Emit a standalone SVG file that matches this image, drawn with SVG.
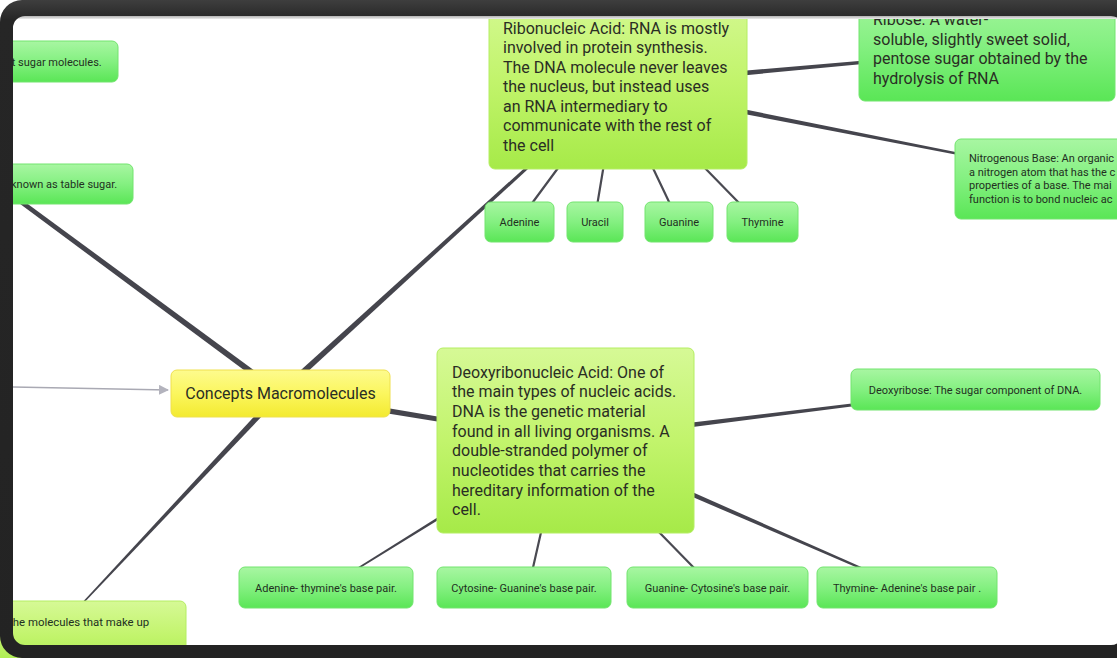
<svg xmlns="http://www.w3.org/2000/svg" width="1117" height="658" viewBox="0 0 1117 658">
<defs>
<linearGradient id="gGreen" x1="0" y1="0" x2="0" y2="1">
<stop offset="0" stop-color="#a8f6a2"/><stop offset="0.5" stop-color="#84f081"/><stop offset="1" stop-color="#5ae656"/>
</linearGradient>
<linearGradient id="gLime" x1="0" y1="0" x2="0" y2="1">
<stop offset="0" stop-color="#d6f996"/><stop offset="0.5" stop-color="#c2f46c"/><stop offset="1" stop-color="#a6ea48"/>
</linearGradient>
<linearGradient id="gYellow" x1="0" y1="0" x2="0" y2="1">
<stop offset="0" stop-color="#fdfb8e"/><stop offset="0.5" stop-color="#fbf65e"/><stop offset="1" stop-color="#f3ea30"/>
</linearGradient>
<linearGradient id="gFrame" x1="0" y1="0" x2="0" y2="1">
<stop offset="0" stop-color="#3e3e3e"/><stop offset="0.03" stop-color="#262626"/><stop offset="1" stop-color="#232323"/>
</linearGradient>
<linearGradient id="gTop" x1="0" y1="0" x2="0" y2="1">
<stop offset="0" stop-color="#8c8c8c"/><stop offset="1" stop-color="#ececec"/>
</linearGradient>
<marker id="arr" markerWidth="10" markerHeight="10" refX="9" refY="5" orient="auto" markerUnits="userSpaceOnUse">
<path d="M0,0 L10,5 L0,10 Z" fill="#b3b3bd"/>
</marker>
<style>
.green{fill:url(#gGreen);stroke:#72e46e;stroke-width:1}
.lime{fill:url(#gLime);stroke:#b4ee62;stroke-width:1}
.yellow{fill:url(#gYellow);stroke:#efe04e;stroke-width:1}
.big{font-family:Roboto,"Liberation Sans",sans-serif;font-size:16px;fill:#2a2e24}
.small{font-family:Roboto,"Liberation Sans",sans-serif;font-size:11px;fill:#22301f}
.mid{text-anchor:middle}
.conn{fill:#45454d}
.connl{stroke:#4a4a52;stroke-width:2.2;fill:none;stroke-linecap:round}
</style>
</defs>
<rect x="0" y="0" width="1117" height="658" fill="#ffffff"/>
<rect x="0" y="625" width="40" height="33" fill="#b98a56"/>

<g id="connectors">
<polygon class="conn" points="281.78,390.59 6.34,188.19 3.66,191.81 278.22,395.41"/>
<polygon class="conn" points="282.02,395.22 541.01,157.11 538.99,154.89 277.98,390.78"/>
<polygon class="conn" points="282.19,395.05 80.55,606.51 79.45,605.49 277.81,390.95"/>
<polygon class="conn" points="279.51,395.96 564.67,441.97 565.33,438.03 280.49,390.04"/>
<polygon class="conn" points="700.22,79.49 900.13,60.49 899.87,57.51 699.78,74.51"/>
<polygon class="conn" points="699.52,105.45 999.81,162.98 1000.19,161.02 700.48,100.55"/>
<polygon class="conn" points="650.31,432.48 900.15,400.24 899.85,397.76 649.69,427.52"/>
<polygon class="conn" points="649,478.29 869.6,572.92 870.4,571.08 651,473.71"/>
<polygon class="conn" points="460.74,506.19 352.42,572.68 351.58,571.32 459.26,503.81"/>
<line class="connl" x1="561" y1="164" x2="530" y2="206"/>
<line class="connl" x1="604" y1="164" x2="597" y2="206"/>
<line class="connl" x1="651" y1="164" x2="671" y2="206"/>
<line class="connl" x1="701" y1="164" x2="742" y2="206"/>
<line class="connl" x1="542" y1="528" x2="532" y2="572"/>
<line class="connl" x1="655" y1="528" x2="698" y2="572"/>
<line x1="13" y1="387" x2="168" y2="390" stroke="#a9a9b3" stroke-width="1.3" marker-end="url(#arr)"/>
</g>

<g id="node-sugar-molecules">
<rect class="green" x="-10" y="41" width="128" height="41" rx="6"/>
<text class="small" x="11.7" y="66">t sugar molecules.</text>
</g>
<g id="node-table-sugar">
<rect class="green" x="-10" y="164" width="143" height="40" rx="6"/>
<text class="small" x="11" y="188">known as table sugar.</text>
</g>
<g id="node-molecules-make-up">
<rect class="lime" x="-10" y="601" width="196" height="70" rx="6"/>
<text class="small" x="6" y="626" style="font-size:11.4px">The molecules that make up</text>
</g>
<g id="node-concepts">
<rect class="yellow" x="171" y="370" width="219" height="47" rx="6"/>
<text class="big mid" x="280.5" y="398.5">Concepts Macromolecules</text>
</g>
<g id="node-rna">
<rect class="lime" x="489" y="-10" width="258" height="179" rx="6"/>
<text class="big" x="503" y="33.5">Ribonucleic Acid: RNA is mostly</text>
<text class="big" x="503" y="53">involved in protein synthesis.</text>
<text class="big" x="503" y="72.5">The DNA molecule never leaves</text>
<text class="big" x="503" y="92">the nucleus, but instead uses</text>
<text class="big" x="503" y="111.5">an RNA intermediary to</text>
<text class="big" x="503" y="131">communicate with the rest of</text>
<text class="big" x="503" y="150.5">the cell</text>
</g>
<g id="node-ribose">
<rect class="green" x="859" y="-10" width="256" height="111" rx="6"/>
<text class="big" x="873" y="25">Ribose: A water-</text>
<text class="big" x="873" y="44.5">soluble, slightly sweet solid,</text>
<text class="big" x="873" y="64">pentose sugar obtained by the</text>
<text class="big" x="873" y="83.5">hydrolysis of RNA</text>
</g>
<g id="node-nitrogenous-base">
<rect class="green" x="955" y="139" width="200" height="80" rx="6"/>
<text class="small" x="969" y="162">Nitrogenous Base: An organic</text>
<text class="small" x="969" y="175.5">a nitrogen atom that has the c</text>
<text class="small" x="969" y="189">properties of a base. The mai</text>
<text class="small" x="969" y="202.5">function is to bond nucleic ac</text>
</g>
<g id="node-adenine">
<rect class="green" x="485" y="202" width="69" height="40" rx="6"/>
<text class="small mid" x="519.5" y="226">Adenine</text>
</g>
<g id="node-uracil">
<rect class="green" x="567" y="202" width="56" height="40" rx="6"/>
<text class="small mid" x="595" y="226">Uracil</text>
</g>
<g id="node-guanine">
<rect class="green" x="645" y="202" width="68" height="40" rx="6"/>
<text class="small mid" x="679" y="226">Guanine</text>
</g>
<g id="node-thymine">
<rect class="green" x="727" y="202" width="71" height="40" rx="6"/>
<text class="small mid" x="762.5" y="226">Thymine</text>
</g>
<g id="node-dna">
<rect class="lime" x="437" y="348" width="257" height="185" rx="6"/>
<text class="big" x="452" y="377.5">Deoxyribonucleic Acid: One of</text>
<text class="big" x="452" y="397.2">the main types of nucleic acids.</text>
<text class="big" x="452" y="416.9">DNA is the genetic material</text>
<text class="big" x="452" y="436.6">found in all living organisms. A</text>
<text class="big" x="452" y="456.3">double-stranded polymer of</text>
<text class="big" x="452" y="476">nucleotides that carries the</text>
<text class="big" x="452" y="495.7">hereditary information of the</text>
<text class="big" x="452" y="515.4">cell.</text>
</g>
<g id="node-deoxyribose">
<rect class="green" x="851" y="369" width="249" height="41" rx="6"/>
<text class="small mid" x="975.5" y="394">Deoxyribose: The sugar component of DNA.</text>
</g>
<g id="node-adenine-thymine">
<rect class="green" x="239" y="567" width="174" height="41" rx="6"/>
<text class="small mid" x="326" y="592">Adenine- thymine's base pair.</text>
</g>
<g id="node-cytosine-guanine">
<rect class="green" x="437" y="567" width="174" height="41" rx="6"/>
<text class="small mid" x="524" y="592">Cytosine- Guanine's base pair.</text>
</g>
<g id="node-guanine-cytosine">
<rect class="green" x="627" y="567" width="181" height="41" rx="6"/>
<text class="small mid" x="717.5" y="592">Guanine- Cytosine's base pair.</text>
</g>
<g id="node-thymine-adenine">
<rect class="green" x="817" y="567" width="180" height="41" rx="6"/>
<text class="small mid" x="907" y="592">Thymine- Adenine's base pair .</text>
</g>

<rect x="13" y="14" width="1110" height="5" fill="url(#gTop)"/>
<path d="M22,0 H1160 V658 H22 A22,22 0 0 1 0,636 V22 A22,22 0 0 1 22,0 Z M25,16 A12,12 0 0 0 13,28 V633 A12,12 0 0 0 25,645 H1111 A12,12 0 0 0 1123,633 V28 A12,12 0 0 0 1111,16 Z" fill="url(#gFrame)" fill-rule="evenodd"/>
</svg>
